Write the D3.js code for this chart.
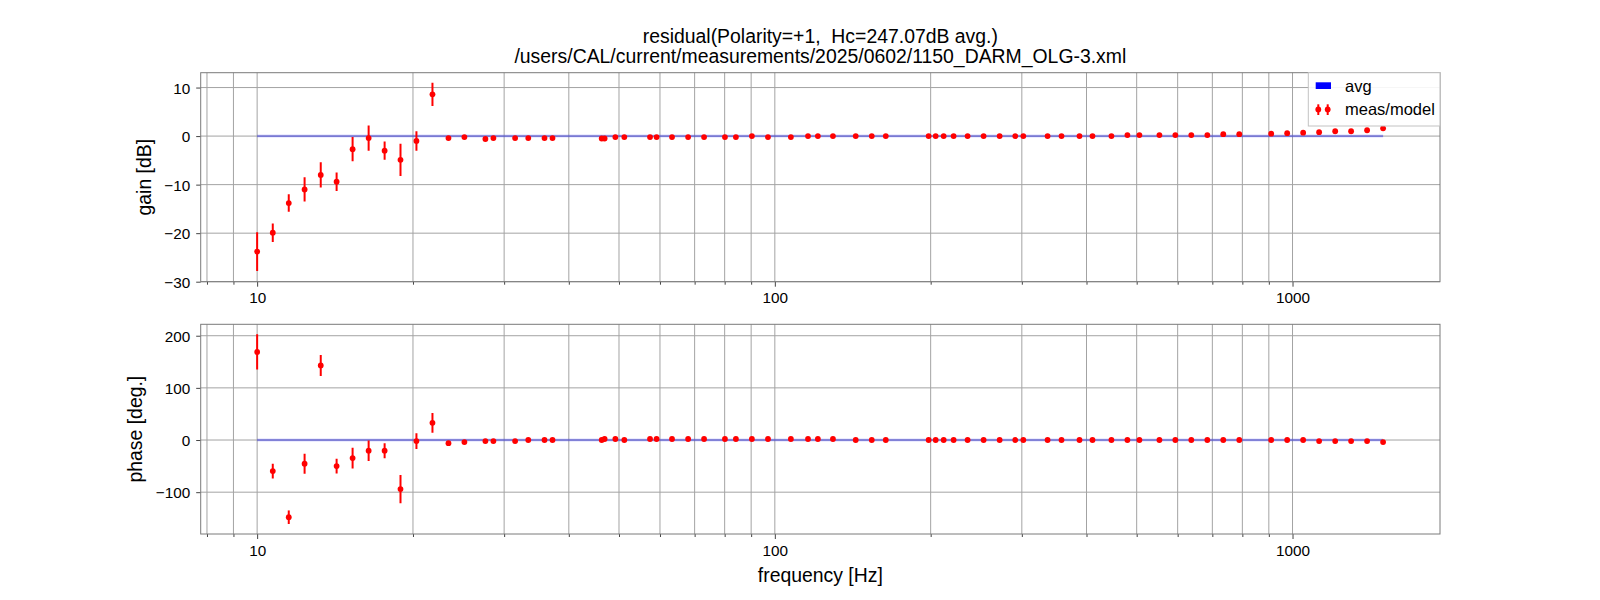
<!DOCTYPE html>
<html>
<head>
<meta charset="utf-8">
<script src="https://cdn.jsdelivr.net/npm/d3@7"></script>
<style>
  html, body { margin: 0; padding: 0; background: #fff; }
  svg { display: block; }
  text { font-family: "Liberation Sans", Arial, Helvetica, sans-serif; fill: #000; white-space: pre; }
</style>
</head>
<body>
<svg id="chart" width="1600" height="600"></svg>
<script>
// ---------------- data ----------------
const freq = [
  10.0, 10.72, 11.51, 12.35, 13.27, 14.24, 15.29, 16.42, 17.63, 18.92,
  20.31, 21.81, 23.42, 25.14, 27.6, 28.6, 31.5, 33.4, 35.9, 37.2,
  46.3, 46.9, 49.2, 51.2, 57.4, 59.1, 63.3, 68.0, 73.0, 80.1,
  84.1, 90.3, 97.0, 107.4, 115.9, 121.1, 129.5, 143.3, 153.9, 163.8,
  198.2, 204.5, 211.9, 221.5, 235.7, 253.1, 271.8, 291.4, 302.0, 336.4,
  357.9, 387.7, 410.8, 446.9, 479.8, 506.1, 553.2, 593.8, 637.5, 684.6,
  734.9, 789.1, 909.5, 976.5, 1048.4, 1125.6, 1209, 1297.7, 1393.3, 1496
];
const gainDb = [
  -23.8, -19.9, -13.8, -11.0, -8.0, -9.4, -2.7, -0.4, -3.0, -4.9,
  -1.0, 8.6, -0.4, -0.2, -0.6, -0.4, -0.4, -0.4, -0.4, -0.4,
  -0.5, -0.5, -0.2, -0.2, -0.2, -0.2, -0.2, -0.2, -0.2, -0.2,
  -0.2, 0.0, -0.2, -0.2, 0.0, 0.0, 0.0, 0.0, 0.0, 0.0,
  0.0, 0.0, 0.0, 0.0, 0.0, 0.0, 0.0, 0.0, 0.0, 0.0,
  0.0, 0.0, 0.0, 0.0, 0.2, 0.2, 0.2, 0.2, 0.2, 0.2,
  0.4, 0.4, 0.5, 0.6, 0.7, 0.8, 1.0, 1.0, 1.2, 1.6
];
const gainErr = [
  4.0, 1.9, 1.8, 2.5, 2.6, 1.9, 2.5, 2.6, 1.9, 3.3,
  2.0, 2.4, 0.1, 0.1, 0.1, 0.1, 0.1, 0.1, 0.1, 0.1,
  0.1, 0.1, 0.1, 0.1, 0.1, 0.1, 0.1, 0.1, 0.1, 0.1,
  0.1, 0.1, 0.1, 0.1, 0.1, 0.1, 0.1, 0.1, 0.1, 0.1,
  0.1, 0.1, 0.1, 0.1, 0.1, 0.1, 0.1, 0.1, 0.1, 0.1,
  0.1, 0.1, 0.1, 0.1, 0.1, 0.1, 0.1, 0.1, 0.1, 0.1,
  0.1, 0.1, 0.1, 0.1, 0.1, 0.1, 0.1, 0.1, 0.1, 0.1
];
const phaseDeg = [
  169, -59.6, -148, -45.5, 143, -50, -34.6, -20.5, -20.5, -94,
  -2, 33, -6, -4, -2, -2, -2, 0, 0, 0,
  0, 2, 2, 0, 2, 2, 2, 2, 2, 2,
  2, 2, 2, 2, 2, 2, 2, 0, 0, 0,
  0, 0, 0, 0, 0, 0, 0, 0, 0, 0,
  0, 0, 0, 0, 0, 0, 0, 0, 0, 0,
  0, 0, 0, 0, 0, -2, -2, -2, -2, -4
];
const phaseErr = [
  34, 14, 13, 19, 20, 14, 20, 19.5, 14.5, 27,
  15, 19, 0.5, 0.5, 0.5, 0.5, 0.5, 0.5, 0.5, 0.5,
  0.5, 0.5, 0.5, 0.5, 0.5, 0.5, 0.5, 0.5, 0.5, 0.5,
  0.5, 0.5, 0.5, 0.5, 0.5, 0.5, 0.5, 0.5, 0.5, 0.5,
  0.5, 0.5, 0.5, 0.5, 0.5, 0.5, 0.5, 0.5, 0.5, 0.5,
  0.5, 0.5, 0.5, 0.5, 0.5, 0.5, 0.5, 0.5, 0.5, 0.5,
  0.5, 0.5, 0.5, 0.5, 0.5, 0.5, 0.5, 0.5, 0.5, 0.5
];
const avgLevelGain = 0;
const avgLevelPhase = 0;
const xMajorTicks = [10, 100, 1000];
const xMinorTicks = [8, 9, 20, 30, 40, 50, 60, 70, 80, 90, 200, 300, 400, 500, 600, 700, 800, 900];
const gainTicks = [-30, -20, -10, 0, 10];
const phaseTicks = [-100, 0, 100, 200];
const titleLines = ["residual(Polarity=+1,  Hc=247.07dB avg.)",
                    "/users/CAL/current/measurements/2025/0602/1150_DARM_OLG-3.xml"];
const legendLabels = ["avg", "meas/model"];

// ---------------- layout ----------------
const svg = d3.select("#chart");
const L = 200.7, R = 1440;
const panels = [
  { top: 72.7, bottom: 281.7, domain: [-30, 13.06], ticks: gainTicks, vals: gainDb, errs: gainErr,
    avg: avgLevelGain, label: "gain [dB]", labelX: 151 },
  { top: 324.3, bottom: 534, domain: [-180.2, 221.9], ticks: phaseTicks, vals: phaseDeg, errs: phaseErr,
    avg: avgLevelPhase, label: "phase [deg.]", labelX: 141.5 }
];

const x = d3.scaleLog().domain([7.78, 1927]).range([L, R]);
const fmt = v => (v < 0 ? "\u2212" + Math.abs(v) : String(v));
const gridColor = "#a3a3a3", spineColor = "#7a7a7a";

panels.forEach((p, pi) => {
  const y = d3.scaleLinear().domain(p.domain).range([p.bottom, p.top]);
  const g = svg.append("g");
  const clipId = "clip" + pi;
  svg.append("clipPath").attr("id", clipId).append("rect")
    .attr("x", L).attr("y", p.top).attr("width", R - L).attr("height", p.bottom - p.top);

  // grid
  const grid = g.append("g");
  xMajorTicks.concat(xMinorTicks).forEach(t => {
    grid.append("line").attr("x1", x(t)).attr("x2", x(t)).attr("y1", p.top).attr("y2", p.bottom)
      .attr("stroke", gridColor).attr("stroke-width", 1);
  });
  p.ticks.forEach(t => {
    grid.append("line").attr("x1", L).attr("x2", R).attr("y1", y(t)).attr("y2", y(t))
      .attr("stroke", gridColor).attr("stroke-width", 1);
  });

  // x axis (bottom) via d3 axis
  const xAxisMajor = d3.axisBottom(x).tickValues(xMajorTicks).tickFormat(d3.format("d"))
    .tickSize(5).tickPadding(5);
  const xa = g.append("g").attr("transform", `translate(0,${p.bottom})`).call(xAxisMajor);
  const xAxisMinor = d3.axisBottom(x).tickValues(xMinorTicks).tickFormat("").tickSize(3);
  const xm = g.append("g").attr("transform", `translate(0,${p.bottom})`).call(xAxisMinor);
  [xa, xm].forEach(a => {
    a.select(".domain").remove();
    a.selectAll(".tick line").attr("stroke", "#444");
  });
  xa.selectAll(".tick text").attr("font-size", "15.3px").attr("fill", "#000")
    .attr("y", 21.7).attr("dy", null).style("font-family", "'Liberation Sans', Arial, sans-serif");

  // y axis via d3 axis
  const yAxis = d3.axisLeft(y).tickValues(p.ticks).tickFormat(fmt).tickSize(4.5).tickPadding(6);
  const ya = g.append("g").attr("transform", `translate(${L},0)`).call(yAxis);
  ya.select(".domain").remove();
  ya.selectAll(".tick line").attr("stroke", "#444");
  ya.selectAll(".tick text").attr("font-size", "15.3px").attr("fill", "#000")
    .attr("dy", "0.36em").style("font-family", "'Liberation Sans', Arial, sans-serif");

  // avg line (band + center)
  const plot = g.append("g").attr("clip-path", `url(#${clipId})`);
  const x0 = x(freq[0]), x1 = x(freq[freq.length - 1]);
  plot.append("line").attr("x1", x0).attr("x2", x1).attr("y1", y(p.avg)).attr("y2", y(p.avg))
    .attr("stroke", "#0000ff").attr("stroke-opacity", 0.15).attr("stroke-width", 3);
  plot.append("line").attr("x1", x0).attr("x2", x1).attr("y1", y(p.avg)).attr("y2", y(p.avg))
    .attr("stroke", "#4040d8").attr("stroke-opacity", 0.8).attr("stroke-width", 1);

  // error bars
  plot.selectAll("line.err").data(freq).enter().append("line").attr("class", "err")
    .attr("x1", d => x(d)).attr("x2", d => x(d))
    .attr("y1", (d, i) => y(p.vals[i] - p.errs[i]))
    .attr("y2", (d, i) => y(p.vals[i] + p.errs[i]))
    .attr("stroke", "#ff0000").attr("stroke-width", 2);
  // points
  plot.selectAll("circle.pt").data(freq).enter().append("circle").attr("class", "pt")
    .attr("cx", d => x(d)).attr("cy", (d, i) => y(p.vals[i]))
    .attr("r", 2.9).attr("fill", "#ff0000");

  // spines
  g.append("rect").attr("x", L).attr("y", p.top).attr("width", R - L).attr("height", p.bottom - p.top)
    .attr("fill", "none").attr("stroke", spineColor).attr("stroke-width", 1);

  // y label
  g.append("text").attr("transform", `translate(${p.labelX},${(p.top + p.bottom) / 2}) rotate(-90)`)
    .attr("text-anchor", "middle").attr("font-size", "19.4px").text(p.label);
});

// x label
svg.append("text").attr("x", (L + R) / 2).attr("y", 582).attr("text-anchor", "middle")
  .attr("font-size", "19.4px").text("frequency [Hz]");

// title
titleLines.forEach((t, i) => {
  svg.append("text").attr("x", (L + R) / 2).attr("y", 43 + i * 20).attr("text-anchor", "middle")
    .attr("xml:space", "preserve").attr("font-size", "19.4px").text(t);
});

// legend
const lg = svg.append("g");
lg.append("rect").attr("x", 1308.3).attr("y", 72.7).attr("width", 1440 - 1308.3).attr("height", 126 - 72.7)
  .attr("fill", "#fff").attr("fill-opacity", 0.9).attr("stroke", "#c2c2c2").attr("stroke-width", 1);
lg.append("rect").attr("x", 1315.7).attr("y", 82.3).attr("width", 15.3).attr("height", 6.7).attr("fill", "#0000ff");
[1318.3, 1327.7].forEach(cx => {
  lg.append("line").attr("x1", cx).attr("x2", cx).attr("y1", 104.3).attr("y2", 115)
    .attr("stroke", "#ff0000").attr("stroke-width", 2);
  lg.append("circle").attr("cx", cx).attr("cy", 109.5).attr("r", 2.9).attr("fill", "#ff0000");
});
lg.append("text").attr("x", 1345).attr("y", 91.5).attr("font-size", "16.5px").text(legendLabels[0]);
lg.append("text").attr("x", 1345).attr("y", 115).attr("font-size", "16.5px").text(legendLabels[1]);
</script>
</body>
</html>
